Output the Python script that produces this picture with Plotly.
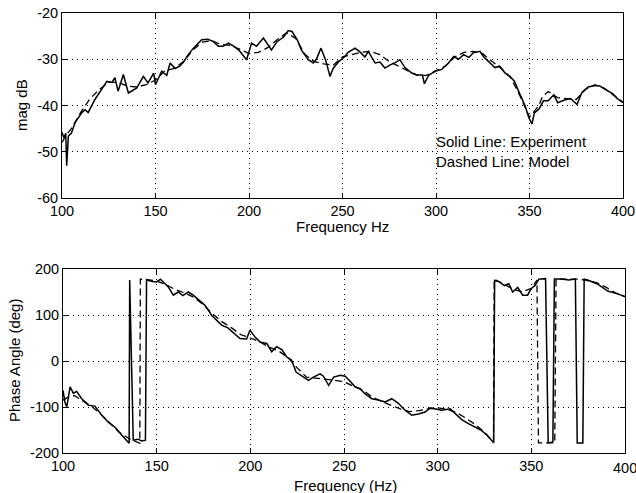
import plotly.graph_objects as go

# ---------------- data ----------------
f_mag_exp = [100, 101, 102, 102.5, 103.4, 105, 107, 110.5, 112.3, 114, 117.6, 121, 124, 126.7, 128.3,
             130, 132.8, 135.5, 140, 143.5, 146, 149, 150, 153.3, 156, 157.8, 160.5, 163, 165, 167.5,
             170.3, 174.7, 178, 181, 183.6, 186, 189, 192, 195, 198.7, 201.4, 204, 207.7, 212, 215,
             218.5, 221, 223, 225.8, 228, 231.7, 234.4, 236, 238.5, 241, 243.3, 245, 248, 251.3, 253,
             256.7, 259, 262, 263.8, 267.4, 270, 272.7, 275.5, 278, 280.7, 283.4, 287, 290, 292.7,
             293.8, 296, 299.5, 303, 306.7, 309.5, 312, 314.8, 317.6, 320, 323.5, 325.3, 329, 331.5,
             334, 337, 339.5, 342, 344.9, 347.7, 349.6, 351.3, 352.6, 355, 357.5, 360, 363, 365.1,
             368.7, 372, 375.4, 378, 381.4, 385, 387.6, 391, 394.6, 397, 400]
mag_exp = [-45.8, -47, -46, -53, -46.6, -46, -43.7, -41.6, -40.9, -41.5, -38.7, -36.6, -34.8, -35, -34,
           -36.9, -33.3, -37.3, -36.2, -33.7, -35.1, -33, -35.5, -32.6, -33.5, -30.8, -32, -31.5, -30.6, -29,
           -27.6, -25.8, -25.7, -26.2, -27.2, -27.2, -26.5, -27.2, -28.2, -30.1, -26.5, -27.2, -25.4, -28, -26.2,
           -25.2, -23.8, -24, -25.8, -28, -30.1, -30.8, -30, -27.6, -30.2, -33.7, -32, -30.5, -29.4, -28.5,
           -27.6, -28.3, -29.5, -28.3, -30.8, -30.6, -31.9, -31.2, -30.8, -30.1, -31.8, -33, -33.4, -33.4,
           -35.3, -33.5, -32.6, -32.2, -30.8, -29.4, -30, -29, -29.6, -28.6, -28.3, -29.4, -30.8, -31.8,
           -31.5, -33, -33.7, -34.8, -37.6, -40.1, -42.6, -44, -41.6, -40.8, -39, -39, -37.7, -39.4,
           -38.8, -38.5, -39.8, -37.2, -36, -35.7, -35.8, -36.6, -37.5, -38.5, -39.4]

f_mag_mod = [100, 102, 105, 110, 115, 120, 125, 130, 135, 140, 145, 150, 155, 160, 165, 170, 175, 180,
             185, 190, 195, 200, 205, 210, 215, 220, 225, 230, 235, 240, 245, 250, 255, 260, 265, 270,
             275, 280, 285, 290, 295, 300, 305, 310, 315, 320, 325, 330, 335, 340, 345, 350, 355, 357,
             360, 365, 370, 375, 380, 385, 390, 395, 400]
mag_mod = [-48, -46.5, -45, -41.5, -38.5, -36.5, -35, -35, -35.8, -36, -35.5, -34.5, -32.5, -32, -30.5,
           -28, -26.3, -26, -26.8, -27, -27.8, -28.8, -28.5, -27.5, -25.8, -24.3, -25.5, -29, -30.5, -31,
           -31.3, -29.5, -29, -28.5, -28.3, -29, -30.5, -31.5, -32.5, -33.5, -33.5, -32.5, -31.5, -29.5,
           -28.5, -28.3, -28.8, -30.5, -32, -34, -38, -42.5, -40, -38, -37, -38.3, -38.5, -38.7, -36.5,
           -35.5, -36.3, -37.8, -39.3]

f_ph_exp = [100, 101, 102, 103.8, 105.5, 107.3, 110, 113.5, 117, 120.7, 124.2, 127.8, 131.3, 134, 135.3,
            135.6, 137.5, 140, 142, 144, 144.6, 147.8, 150, 152, 154, 156.2, 158.9, 161.5, 164, 166.9,
            169.5, 172, 175.8, 179.4, 182, 184.7, 188, 191, 194.5, 198, 199.8, 202.5, 205.2, 208.8,
            211.4, 214, 216.8, 219.4, 222, 224.4, 228, 231, 233.7, 237.2, 239, 241.8, 244.5, 248, 250.6,
            252.4, 255.9, 258.5, 261.2, 264.8, 268.4, 272, 275.5, 279, 282.6, 286.2, 289.7, 293.3, 296,
            298.7, 302.2, 306.7, 309.4, 313, 316.4, 320, 323, 326.5, 329.9, 330.4, 333, 335.6, 338, 340,
            342.7, 345.4, 348, 349.8, 352, 354, 357.6, 359, 361.5, 362.3, 366, 370, 373.5, 374.5, 377.5,
            378.2, 380, 385, 390.8, 396, 400]
ph_exp = [-64, -89, -100, -56, -70, -66, -82, -96, -98, -118, -133, -144, -161, -172, -179,
          176, -172, -170, -174, -172, 176, 173, 172, 178, 169, 161, 143, 150, 142, 150,
          143, 135, 121, 99, 88, 78, 72, 62, 49, 48, 67, 52, 41, 38,
          20, 31, 25, 9, 2, -24, -33, -42, -35, -28, -33, -53, -35, -31, -33,
          -40, -56, -60, -71, -82, -85, -89, -82, -92, -107, -118, -115, -111, -102,
          -104, -107, -104, -114, -128, -136, -143, -150, -162, -178, 175, 172, 164, 168, 150,
          160, 143, 143, 157, 164, 178, 179, -178, -176, 178, 178, 176, 178, -178, -178,
          178, 176, 168, 152, 146, 140]

f_ph_mod = [100, 103, 106, 110, 115, 120, 125, 130, 135, 139, 141, 141.3, 145, 150, 155, 160, 165, 170,
            175, 180, 185, 190, 195, 200, 205, 210, 215, 220, 225, 230, 235, 240, 245, 250, 255, 260,
            265, 270, 275, 280, 285, 290, 295, 300, 305, 310, 315, 320, 325, 329.8, 330.2, 335, 340,
            345, 350, 353, 353.8, 362.5, 363.2, 370, 375, 380, 385, 390, 395, 400]
ph_mod = [-85, -78, -75, -85, -98, -115, -135, -155, -168, -176, -179, 178, 177, 174, 166, 155, 148, 138,
          122, 102, 85, 72, 57, 50, 42, 30, 22, 8, -15, -35, -37, -40, -42, -45, -55, -63,
          -78, -88, -96, -104, -110, -108, -104, -102, -105, -112, -124, -138, -155, -176, 178, 168, 157,
          150, 158, 176, -178, -178, 178, 178, 178, 175, 170, 160, 148, 140]

x_ticks = [100, 150, 200, 250, 300, 350, 400]
mag_ticks = [-60, -50, -40, -30, -20]
ph_ticks = [-200, -100, 0, 100, 200]
legend_lines = ["Solid Line: Experiment", "Dashed Line: Model"]

# ---------------- figure ----------------
FONT = "Liberation Sans, Arial, Helvetica, sans-serif"
TICK = 14.5
solid = dict(color="black", width=1.5)
dashed = dict(color="black", width=1.3, dash="7px,4px")

fig = go.Figure()
fig.add_trace(go.Scatter(x=f_mag_mod, y=mag_mod, mode="lines", line=dashed, xaxis="x", yaxis="y"))
fig.add_trace(go.Scatter(x=f_mag_exp, y=mag_exp, mode="lines", line=solid, xaxis="x", yaxis="y"))
fig.add_trace(go.Scatter(x=f_ph_mod, y=ph_mod, mode="lines", line=dashed, xaxis="x2", yaxis="y2"))
fig.add_trace(go.Scatter(x=f_ph_exp, y=ph_exp, mode="lines", line=solid, xaxis="x2", yaxis="y2"))

W, H = 636, 493

def ax(**kw):
    d = dict(showline=True, linecolor="black", linewidth=1, mirror="ticks",
             ticks="inside", ticklen=5, tickcolor="black", tickwidth=1,
             showgrid=True, gridcolor="black", gridwidth=1, griddash="1px,4px",
             zeroline=False, automargin=False,
             tickfont=dict(family=FONT, size=TICK, color="black"))
    d.update(kw)
    return d

# bottom axis: the right-most label is drawn separately (it runs off the page edge)
x2_text = [str(v) for v in x_ticks[:-1]] + [""]

fig.update_layout(
    width=W, height=H, margin=dict(l=0, r=0, t=0, b=0),
    paper_bgcolor="white", plot_bgcolor="white", showlegend=False,
    xaxis=ax(domain=[62 / W, 623 / W], range=[100, 400], tickvals=x_ticks,
             ticktext=[str(v) for v in x_ticks], anchor="y"),
    yaxis=ax(domain=[1 - 198 / H, 1 - 13 / H], range=[-60, -20], tickvals=mag_ticks,
             ticktext=[str(v) for v in mag_ticks], anchor="x"),
    xaxis2=ax(domain=[63 / W, 625 / W], range=[100, 400], tickvals=x_ticks,
              ticktext=x2_text, anchor="y2"),
    yaxis2=ax(domain=[1 - 453 / H, 1 - 269 / H], range=[-200, 200], tickvals=ph_ticks,
              ticktext=[str(v) for v in ph_ticks], anchor="x2"),
)

fig.add_annotation(text=str(x_ticks[-1]), x=x_ticks[-1], xref="x2", y=1 - 468 / H, yref="paper",
                   showarrow=False, xanchor="center", yanchor="middle",
                   font=dict(family=FONT, size=TICK, color="black"))

def label(text, x, y, angle=0, size=15):
    fig.add_annotation(text=text, x=x / W, y=1 - y / H, xref="paper", yref="paper",
                       showarrow=False, textangle=angle, xanchor="center", yanchor="middle",
                       font=dict(family=FONT, size=size, color="black"))

label("Frequency Hz", 342, 226)
label("mag dB", 22, 105, angle=-90)
label("Frequency (Hz)", 345, 485)
label("Phase Angle (deg)", 14, 361, angle=-90)

for i, t in enumerate(legend_lines):
    fig.add_annotation(text=t, x=300, y=[-47.7, -52.1][i], xref="x", yref="y", showarrow=False,
                       xanchor="left", yanchor="middle", xshift=-2,
                       font=dict(family=FONT, size=15, color="black"))

fig.write_html("out.html")
